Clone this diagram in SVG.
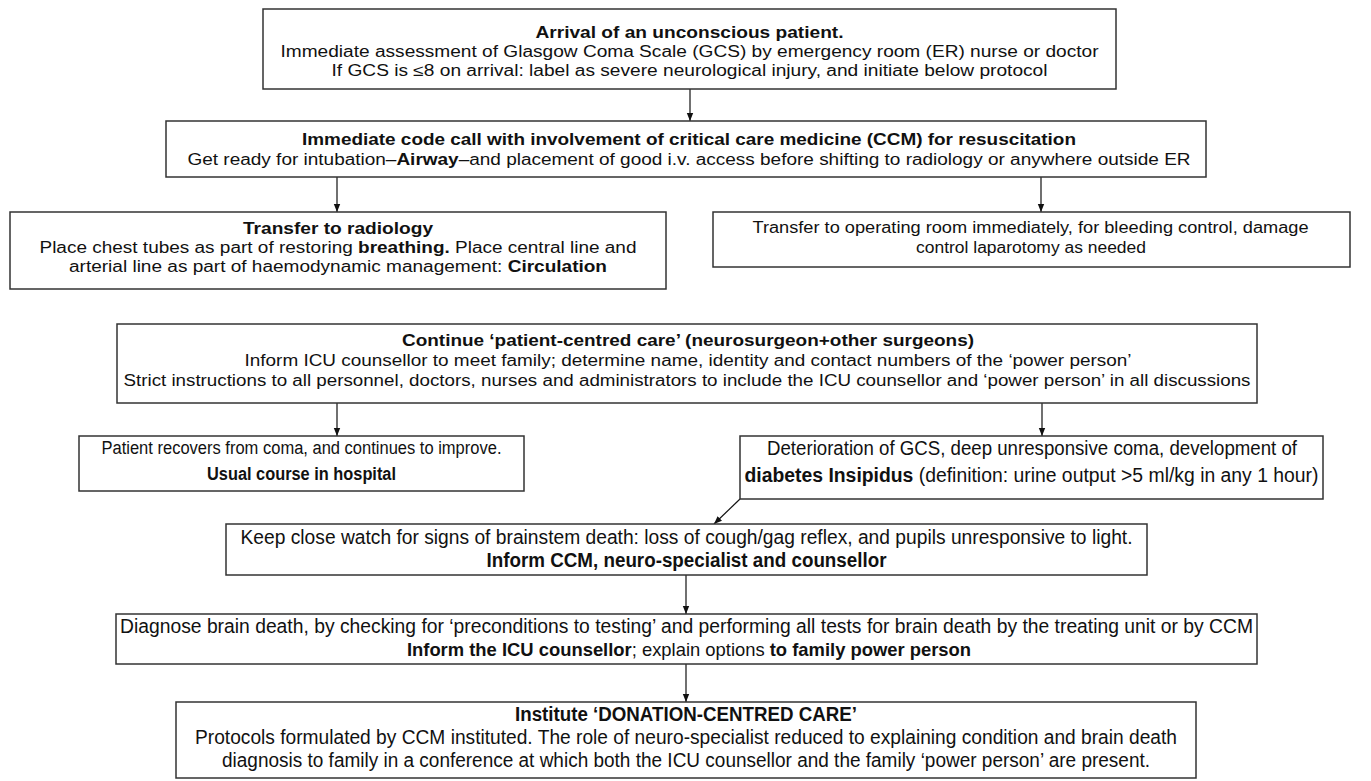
<svg xmlns="http://www.w3.org/2000/svg" width="1371" height="781" viewBox="0 0 1371 781">
<style>
.box{fill:#fff;stroke:#333;stroke-width:1.5}
.t{font-family:"Liberation Sans",Arial,Helvetica,sans-serif;font-size:16px;fill:#111;text-anchor:middle}
.n{font-size:20px}
.s{font-size:18px}
.b{font-weight:bold}
.c{stroke:#111;stroke-width:1.2;fill:none;marker-end:url(#ah)}
</style>
<defs>
<marker id="ah" viewBox="0 0 10 10" refX="10" refY="5" markerWidth="8" markerHeight="8" markerUnits="userSpaceOnUse" orient="auto">
<path d="M0,1 L10,5 L0,9 z" fill="#111"/>
</marker>
</defs>
<rect width="1371" height="781" fill="#fff"/>
<g id="connectors">
<line class="c" x1="690" y1="89" x2="690" y2="121"/>
<line class="c" x1="337" y1="177" x2="337" y2="212"/>
<line class="c" x1="1041" y1="177" x2="1041" y2="212"/>
<line class="c" x1="337" y1="403" x2="337" y2="436"/>
<line class="c" x1="1042" y1="403" x2="1042" y2="436"/>
<line class="c" x1="740" y1="499" x2="714" y2="524"/>
<line class="c" x1="686" y1="575" x2="686" y2="614"/>
<line class="c" x1="686" y1="664" x2="686" y2="702"/>
</g>
<g id="n1">
<rect class="box" x="263" y="9" width="853" height="80"/>
<text class="t b" x="689.5" y="38" textLength="308" lengthAdjust="spacingAndGlyphs">Arrival of an unconscious patient.</text>
<text class="t" x="689.5" y="57" textLength="818" lengthAdjust="spacingAndGlyphs">Immediate assessment of Glasgow Coma Scale (GCS) by emergency room (ER) nurse or doctor</text>
<text class="t" x="689.5" y="76" textLength="716" lengthAdjust="spacingAndGlyphs">If GCS is ≤8 on arrival: label as severe neurological injury, and initiate below protocol</text>
</g>
<g id="n2">
<rect class="box" x="166" y="121" width="1040" height="56"/>
<text class="t b" x="689" y="145" textLength="774" lengthAdjust="spacingAndGlyphs">Immediate code call with involvement of critical care medicine (CCM) for resuscitation</text>
<text class="t" x="689" y="165" textLength="1003" lengthAdjust="spacingAndGlyphs">Get ready for intubation–<tspan class="b">Airway</tspan>–and placement of good i.v. access before shifting to radiology or anywhere outside ER</text>
</g>
<g id="n3">
<rect class="box" x="10" y="212" width="656" height="77"/>
<text class="t b" x="338" y="234" textLength="190" lengthAdjust="spacingAndGlyphs">Transfer to radiology</text>
<text class="t" x="338" y="253" textLength="597" lengthAdjust="spacingAndGlyphs">Place chest tubes as part of restoring <tspan class="b">breathing.</tspan> Place central line and</text>
<text class="t" x="338" y="272" textLength="538" lengthAdjust="spacingAndGlyphs">arterial line as part of haemodynamic management: <tspan class="b">Circulation</tspan></text>
</g>
<g id="n4">
<rect class="box" x="713" y="212" width="637" height="55"/>
<text class="t" x="1030.5" y="233" textLength="556" lengthAdjust="spacingAndGlyphs">Transfer to operating room immediately, for bleeding control, damage</text>
<text class="t" x="1031" y="253" textLength="230" lengthAdjust="spacingAndGlyphs">control laparotomy as needed</text>
</g>
<g id="n5">
<rect class="box" x="117" y="324" width="1140" height="79"/>
<text class="t b" x="688" y="346" textLength="572" lengthAdjust="spacingAndGlyphs">Continue ‘patient-centred care’ (neurosurgeon+other surgeons)</text>
<text class="t" x="688" y="366" textLength="887" lengthAdjust="spacingAndGlyphs">Inform ICU counsellor to meet family; determine name, identity and contact numbers of the ‘power person’</text>
<text class="t" x="687" y="386" textLength="1127" lengthAdjust="spacingAndGlyphs">Strict instructions to all personnel, doctors, nurses and administrators to include the ICU counsellor and ‘power person’ in all discussions</text>
</g>
<g id="n6">
<rect class="box" x="79" y="436" width="445" height="55"/>
<text class="t s" x="301.5" y="454" textLength="400" lengthAdjust="spacingAndGlyphs">Patient recovers from coma, and continues to improve.</text>
<text class="t s b" x="301.5" y="480" textLength="189" lengthAdjust="spacingAndGlyphs">Usual course in hospital</text>
</g>
<g id="n7">
<rect class="box" x="740" y="436" width="583" height="63"/>
<text class="t n" x="1032" y="455" textLength="530" lengthAdjust="spacingAndGlyphs">Deterioration of GCS, deep unresponsive coma, development of</text>
<text class="t n" x="1031.5" y="482" textLength="574" lengthAdjust="spacingAndGlyphs"><tspan class="b">diabetes Insipidus</tspan> (definition: urine output &gt;5 ml/kg in any 1 hour)</text>
</g>
<g id="n8">
<rect class="box" x="226" y="524" width="921" height="51"/>
<text class="t n" x="686.5" y="544" textLength="892" lengthAdjust="spacingAndGlyphs">Keep close watch for signs of brainstem death: loss of cough/gag reflex, and pupils unresponsive to light.</text>
<text class="t n b" x="686.5" y="567" textLength="400" lengthAdjust="spacingAndGlyphs">Inform CCM, neuro-specialist and counsellor</text>
</g>
<g id="n9">
<rect class="box" x="116" y="614" width="1141" height="50"/>
<text class="t n" x="686.5" y="633" textLength="1133" lengthAdjust="spacingAndGlyphs">Diagnose brain death, by checking for ‘preconditions to testing’ and performing all tests for brain death by the treating unit or by CCM</text>
<text class="t" x="689" y="656" style="font-size:18.4px"><tspan class="b">Inform the  ICU counsellor</tspan>; explain options <tspan class="b">to family power person</tspan></text>
</g>
<g id="n10">
<rect class="box" x="176" y="702" width="1020" height="76"/>
<text class="t n b" x="686" y="721" textLength="342" lengthAdjust="spacingAndGlyphs">Institute ‘DONATION-CENTRED CARE’</text>
<text class="t n" x="686" y="744" textLength="982" lengthAdjust="spacingAndGlyphs">Protocols formulated by CCM instituted. The role of neuro-specialist reduced to explaining condition and brain death</text>
<text class="t n" x="686" y="767" textLength="928" lengthAdjust="spacingAndGlyphs">diagnosis to family in a conference at which both the ICU counsellor and the family ‘power person’ are present.</text>
</g>
</svg>
